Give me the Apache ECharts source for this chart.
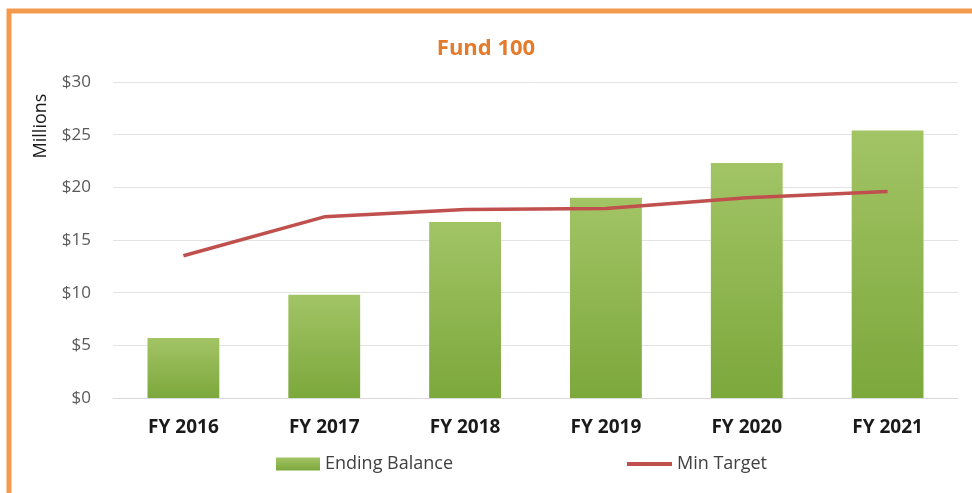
<!DOCTYPE html>
<html>
<head>
<meta charset="utf-8">
<script src="https://cdn.jsdelivr.net/npm/echarts@6/dist/echarts.min.js"></script>
<style>
    html, body { margin: 0; padding: 0; background: #fff; }
    #chart { width: 972px; height: 493px; }
</style>
</head>
<body>
<div id="chart"></div>
<script>
    var categories = ['FY 2016', 'FY 2017', 'FY 2018', 'FY 2019', 'FY 2020', 'FY 2021'];
    var endingBalance = [5.7, 9.8, 16.7, 19.0, 22.3, 25.4];
    var minTarget = [13.5, 17.2, 17.9, 18.0, 19.0, 19.6];
    var yTicks = [0, 5, 10, 15, 20, 25, 30];

    var chart = echarts.init(document.getElementById('chart'));
    var font = '"Open Sans", "Liberation Sans", sans-serif';

    var legendText = { color: '#404040', fontSize: 18, fontFamily: font };

    var option = {
        animation: false,
        backgroundColor: '#ffffff',
        title: {
            text: 'Fund 100',
            left: 'center',
            top: 33,
            textStyle: {
                color: '#E47A2A',
                fontSize: 22,
                fontWeight: 'bold',
                fontFamily: font
            }
        },
        legend: [
            {
                top: 450,
                left: 271,
                itemWidth: 44,
                itemHeight: 13,
                textStyle: legendText,
                data: [{ name: 'Ending Balance', icon: 'rect' }]
            },
            {
                top: 450,
                left: 620,
                itemWidth: 45,
                itemHeight: 13,
                textStyle: legendText,
                data: [{ name: 'Min Target', itemStyle: { opacity: 0 }, lineStyle: { width: 4 } }]
            }
        ],
        grid: {
            left: 113,
            right: 14,
            top: 82,
            bottom: 95,
            containLabel: false
        },
        xAxis: {
            type: 'category',
            data: categories,
            axisLine: { show: true, lineStyle: { color: '#d9d9d9' } },
            axisTick: { show: false },
            axisLabel: {
                color: '#1a1a1a',
                fontSize: 19,
                fontWeight: 'bold',
                fontFamily: font,
                margin: 20
            }
        },
        yAxis: {
            type: 'value',
            min: yTicks[0],
            max: yTicks[yTicks.length - 1],
            interval: 5,
            axisLine: { show: false },
            axisTick: { show: false },
            splitLine: { lineStyle: { color: '#e3e3e3', width: 1 } },
            axisLabel: {
                color: '#595959',
                fontSize: 17,
                fontFamily: font,
                margin: 22,
                formatter: function (v) { return '$' + v; }
            }
        },
        graphic: [
            {
                type: 'rect',
                shape: { x: 9, y: 11, width: 1000, height: 600 },
                style: { fill: 'none', stroke: '#F39A4E', lineWidth: 5 },
                z: 100
            },
            {
                type: 'text',
                x: 41,
                y: 126,
                rotation: Math.PI / 2,
                style: {
                    text: 'Millions',
                    fill: '#1a1a1a',
                    font: '18px ' + font,
                    align: 'center',
                    verticalAlign: 'middle'
                }
            }
        ],
        series: [
            {
                name: 'Ending Balance',
                type: 'bar',
                barWidth: '51%',
                data: endingBalance,
                itemStyle: {
                    color: new echarts.graphic.LinearGradient(0, 0, 0, 1, [
                        { offset: 0, color: '#A2C465' },
                        { offset: 1, color: '#7CA83C' }
                    ])
                }
            },
            {
                name: 'Min Target',
                type: 'line',
                data: minTarget,
                symbol: 'none',
                lineStyle: { color: '#C0504D', width: 3.5 },
                itemStyle: { color: '#C0504D' }
            }
        ]
    };
    chart.setOption(option);
</script>
</body>
</html>
